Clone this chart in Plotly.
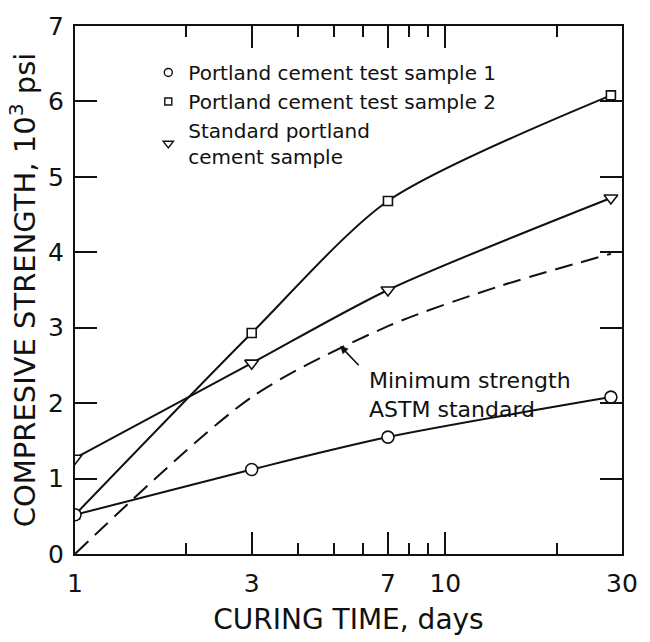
import plotly.graph_objects as go

# ---- data ----
days = [1, 3, 7, 28]
sample1 = [0.52, 1.12, 1.55, 2.08]
sample2 = [0.52, 2.93, 4.68, 6.08]
standard = [1.27, 2.53, 3.50, 4.72]

astm_days = [1, 3, 7, 14, 28]
astm_min = [0.0, 2.08, 3.02, 3.55, 3.98]

x_tick_vals = [1, 3, 7, 10, 30]
x_tick_text = ["1", "3", "7", "10", "30"]
x_minor_vals = [2, 4, 5, 6, 8, 9, 20]
y_tick_vals = [0, 1, 2, 3, 4, 5, 6, 7]

FONT = "DejaVu Sans"
BLACK = "#111111"

fig = go.Figure()

# dashed ASTM minimum curve
fig.add_trace(go.Scatter(x=astm_days, y=astm_min, mode="lines",
                         line=dict(color=BLACK, width=2, dash="18px,9px",
                                   shape="spline", smoothing=0.8),
                         showlegend=False, hoverinfo="skip"))

series = [
    ("Portland cement test sample 2", sample2, "square", 9),
    ("Standard portland<br>cement sample", standard, "triangle-down", 12),
    ("Portland cement test sample 1", sample1, "circle", 12),
]
for name, ys, sym, sz in series:
    fig.add_trace(go.Scatter(x=days, y=ys, mode="lines",
                             line=dict(color=BLACK, width=2, shape="spline", smoothing=0.75),
                             showlegend=False, hoverinfo="skip"))

for name, ys, sym, sz in series:
    fig.add_trace(go.Scatter(x=days, y=ys, mode="markers", name=name,
                             marker=dict(symbol=sym, size=sz, color="white",
                                         line=dict(color=BLACK, width=1.6)),
                             showlegend=False))

# legend entries (markers only)
legend_items = [
    ("Portland cement test sample 1", "circle", 8),
    ("Portland cement test sample 2", "square", 7),
    ("Standard portland<br>cement sample", "triangle-down", 9),
]
for name, sym, sz in legend_items:
    fig.add_trace(go.Scatter(x=[None], y=[None], mode="markers", name=name,
                             marker=dict(symbol=sym, size=sz, color="white",
                                         line=dict(color=BLACK, width=1.4))))

axis_common = dict(showline=True, linecolor=BLACK, linewidth=2, mirror="ticks",
                   ticks="inside", tickcolor=BLACK, tickwidth=1.5,
                   showgrid=False, zeroline=False,
                   tickfont=dict(family=FONT, size=25, color=BLACK))

fig.update_layout(
    width=650, height=642,
    margin=dict(l=75, r=18, t=25, b=79),
    paper_bgcolor="white", plot_bgcolor="white",
    font=dict(family=FONT, color=BLACK),
    xaxis=dict(type="log", range=[0, 1.4771213], tickvals=x_tick_vals,
               ticktext=x_tick_text, ticklen=22, ticklabelstandoff=6,
               minor=dict(tickvals=x_minor_vals, ticks="inside", ticklen=11,
                          tickcolor=BLACK, tickwidth=1.5, showgrid=False),
               title=dict(text="CURING TIME, days", standoff=12,
                          font=dict(family=FONT, size=28, color=BLACK)),
               **axis_common),
    yaxis=dict(range=[0, 7], tickvals=y_tick_vals, ticklen=22, ticklabelstandoff=4,
               title=dict(text="COMPRESIVE STRENGTH, 10<sup>3</sup> psi", standoff=4,
                          font=dict(family=FONT, size=29, color=BLACK)),
               **axis_common),
    legend=dict(x=0.134, y=0.949, xanchor="left", yanchor="top",
                bgcolor="rgba(0,0,0,0)", tracegroupgap=0,
                font=dict(family=FONT, size=20, color=BLACK)),
    showlegend=True,
)

# annotation with arrow for the ASTM curve
fig.add_annotation(x=0.716, y=2.76, xref="x", yref="y", text="",
                   showarrow=True, ax=20, ay=21, arrowhead=2, arrowsize=1,
                   arrowwidth=1.6, arrowcolor=BLACK)
fig.add_annotation(x=0.533, y=0.357, xref="paper", yref="paper",
                   xanchor="left", yanchor="top", align="left", showarrow=False,
                   text="Minimum strength<br>ASTM standard",
                   font=dict(family=FONT, size=22, color=BLACK))

fig.write_html("out.html")
